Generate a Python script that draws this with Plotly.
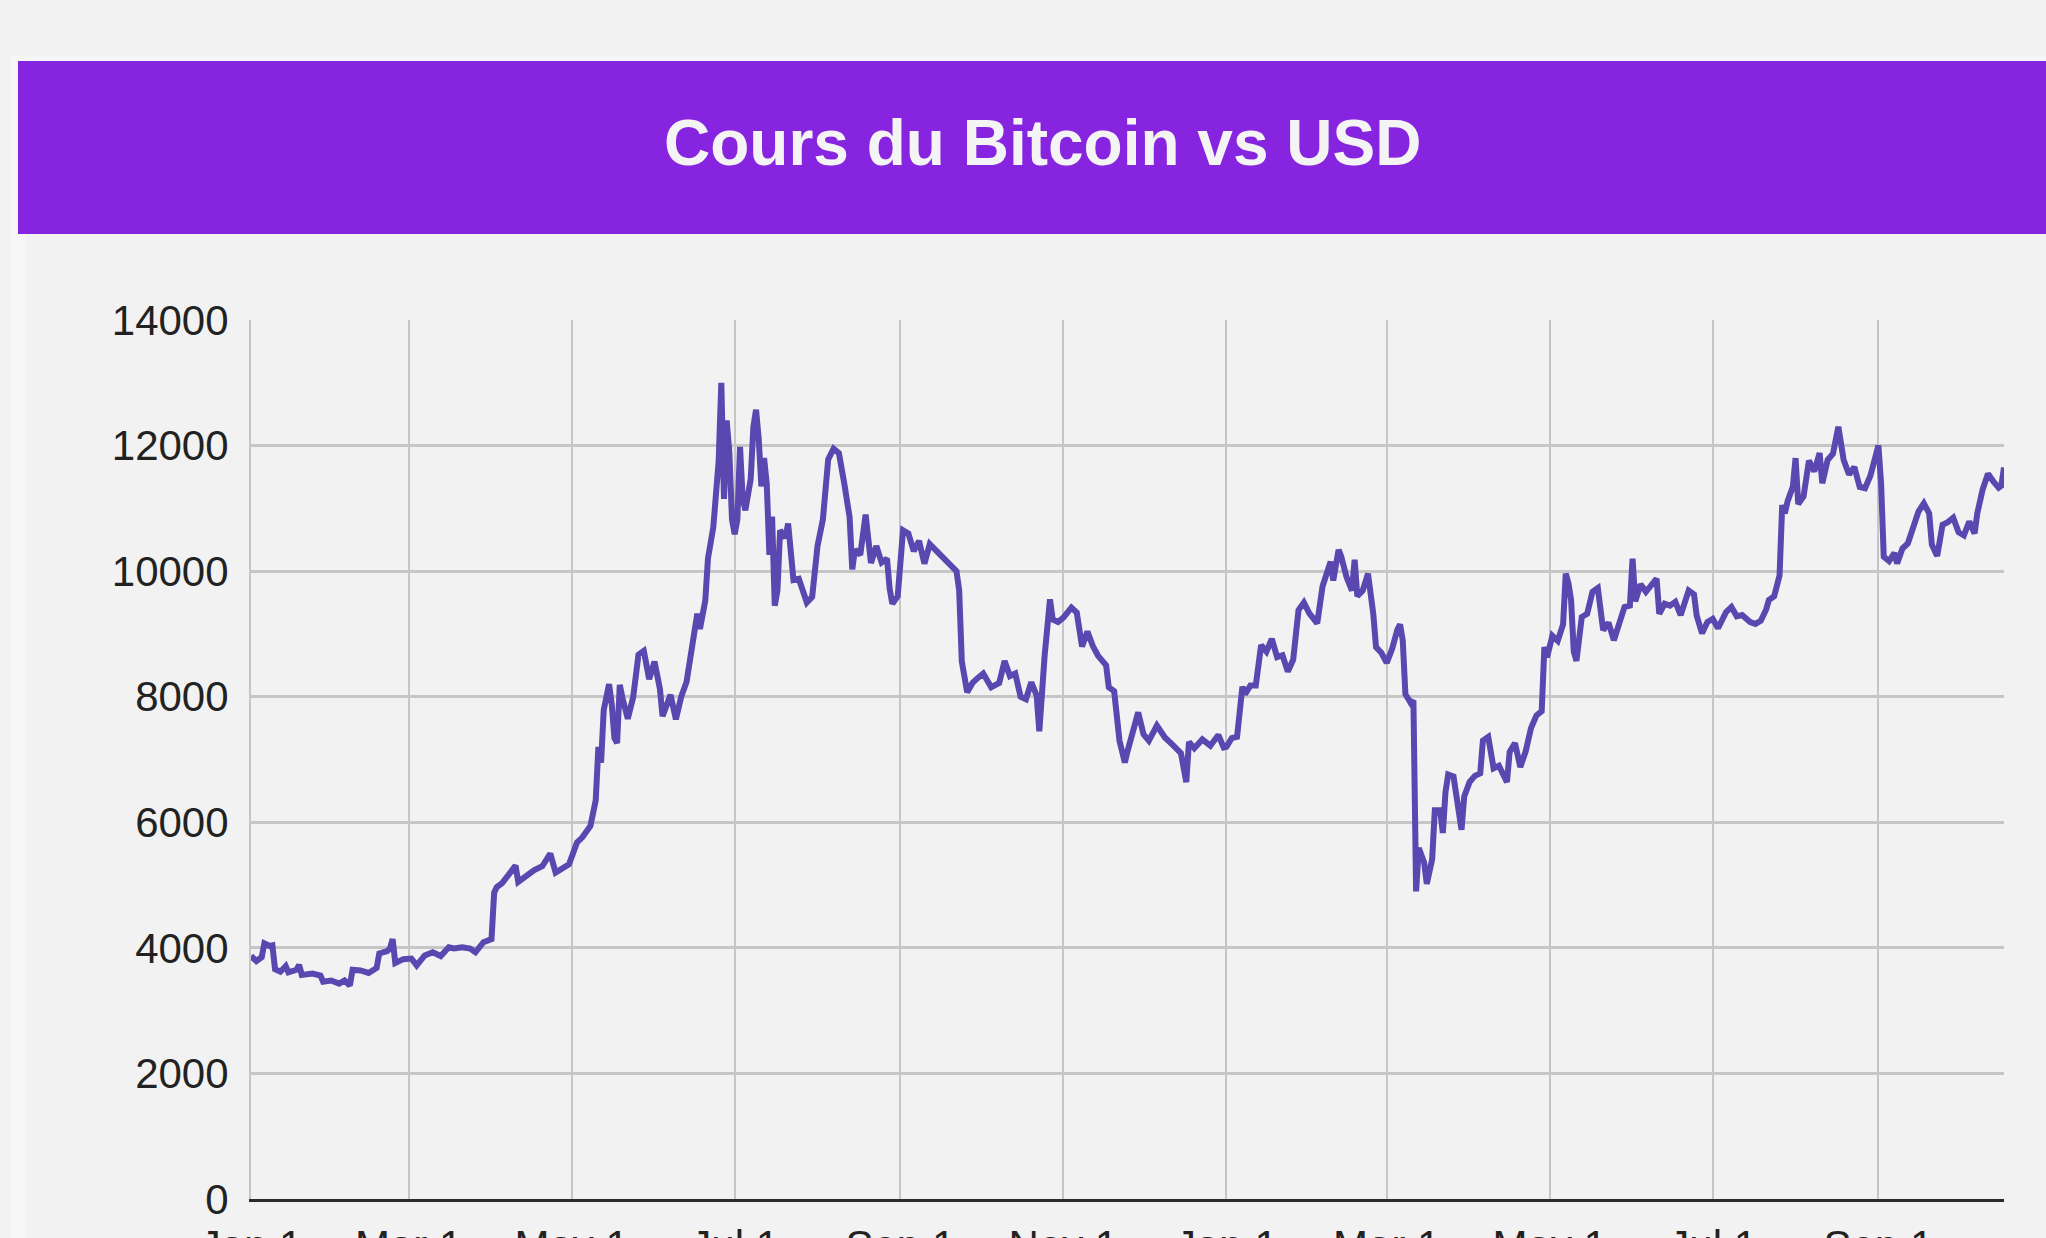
import plotly.graph_objects as go

# ---- data ----
dates_2019 = [
    "2019-01-01","2019-01-03","2019-01-05","2019-01-06","2019-01-08","2019-01-09","2019-01-10","2019-01-12",
    "2019-01-14","2019-01-15","2019-01-18","2019-01-19","2019-01-20","2019-01-24","2019-01-27","2019-01-28",
    "2019-01-31","2019-02-03","2019-02-05","2019-02-07","2019-02-08","2019-02-11","2019-02-14","2019-02-17",
    "2019-02-18","2019-02-21","2019-02-22","2019-02-23","2019-02-24","2019-02-27","2019-03-02","2019-03-04",
    "2019-03-07","2019-03-10","2019-03-13","2019-03-16","2019-03-18","2019-03-21","2019-03-24","2019-03-26",
    "2019-03-29","2019-04-01","2019-04-02","2019-04-03","2019-04-05","2019-04-08","2019-04-10","2019-04-11",
    "2019-04-14","2019-04-17","2019-04-20","2019-04-23","2019-04-25","2019-04-28","2019-04-30","2019-05-03",
    "2019-05-05","2019-05-08","2019-05-10","2019-05-11","2019-05-12","2019-05-13","2019-05-14","2019-05-15",
    "2019-05-16","2019-05-17","2019-05-18","2019-05-19","2019-05-20","2019-05-22","2019-05-24","2019-05-26",
    "2019-05-28","2019-05-30","2019-06-01","2019-06-03","2019-06-04","2019-06-07","2019-06-09","2019-06-11",
    "2019-06-13","2019-06-15","2019-06-17","2019-06-18","2019-06-20","2019-06-21","2019-06-23","2019-06-25",
    "2019-06-26","2019-06-27","2019-06-28","2019-06-29","2019-06-30","2019-07-01","2019-07-02","2019-07-03",
    "2019-07-04","2019-07-05","2019-07-07","2019-07-08","2019-07-09","2019-07-10","2019-07-11","2019-07-12",
    "2019-07-13","2019-07-14","2019-07-15","2019-07-16","2019-07-17","2019-07-18","2019-07-20","2019-07-21",
    "2019-07-23","2019-07-25","2019-07-28","2019-07-30","2019-08-01","2019-08-03","2019-08-05","2019-08-07",
    "2019-08-09","2019-08-11","2019-08-13","2019-08-14","2019-08-15","2019-08-17","2019-08-19","2019-08-21",
    "2019-08-23","2019-08-25","2019-08-27","2019-08-28","2019-08-29","2019-08-31","2019-09-02","2019-09-04",
    "2019-09-06","2019-09-08","2019-09-10","2019-09-12","2019-09-14","2019-09-16","2019-09-18","2019-09-20",
    "2019-09-22","2019-09-23","2019-09-24","2019-09-26","2019-09-28","2019-09-30","2019-10-02","2019-10-05",
    "2019-10-08","2019-10-10","2019-10-12","2019-10-14","2019-10-16","2019-10-18","2019-10-20","2019-10-22",
    "2019-10-23","2019-10-25","2019-10-26","2019-10-27","2019-10-28","2019-10-30","2019-11-01","2019-11-04",
    "2019-11-06","2019-11-08","2019-11-10","2019-11-12","2019-11-14","2019-11-17","2019-11-18","2019-11-20",
    "2019-11-22","2019-11-24","2019-11-25","2019-11-29","2019-12-01","2019-12-03","2019-12-06","2019-12-09",
    "2019-12-12","2019-12-15","2019-12-17","2019-12-18","2019-12-20","2019-12-23","2019-12-26","2019-12-29",
    "2019-12-31",
]
prices_2019 = [
    3870,3790,3850,4070,4030,4040,3660,3620,
    3710,3610,3650,3730,3570,3590,3560,3460,
    3480,3430,3480,3400,3650,3640,3600,3680,
    3910,3950,3990,4140,3760,3820,3830,3720,
    3880,3930,3870,4010,3990,4010,3990,3930,
    4090,4140,4880,4970,5030,5200,5310,5050,
    5150,5240,5300,5500,5200,5280,5330,5680,
    5760,5940,6350,7200,6950,7790,7990,8200,
    7880,7340,7260,8190,7980,7650,7990,8670,
    8730,8280,8560,8130,7690,8030,7640,8000,
    8240,8850,9320,9080,9530,10200,10700,11750,
    13000,11150,12400,11900,10820,10590,10820,11980,
    11150,10970,11470,12300,12570,12100,11350,11800,
    11390,10260,10870,9450,9690,10650,10530,10760,
    9860,9880,9500,9590,10400,10820,11780,11950,
    11880,11400,10860,10030,10340,10260,10900,10130,
    10400,10140,10200,9720,9480,9600,10650,10600,
    10320,10480,10120,10430,10350,10240,10180,10100,
    10000,9700,8560,8070,8220,8300,8370,8150,
    8220,8570,8330,8370,8000,7960,8230,8020,
    7450,8660,9250,9550,9230,9190,9260,9420,
    9340,8800,9040,8810,8650,8500,8150,8090,
    7300,6950,7130,7750,7400,7300,7540,7350,
    7230,7100,6640,7280,7180,7320,7220,7390,
    7190,
]
dates_2020 = [
    "2020-01-01","2020-01-03","2020-01-05","2020-01-06","2020-01-07","2020-01-08","2020-01-10","2020-01-12",
    "2020-01-14","2020-01-16","2020-01-18","2020-01-20","2020-01-22","2020-01-24","2020-01-26","2020-01-28",
    "2020-01-30","2020-02-01","2020-02-04","2020-02-06","2020-02-09","2020-02-10","2020-02-12","2020-02-13",
    "2020-02-15","2020-02-17","2020-02-18","2020-02-19","2020-02-21","2020-02-23","2020-02-25","2020-02-26",
    "2020-02-28","2020-03-01","2020-03-03","2020-03-05","2020-03-06","2020-03-07","2020-03-08","2020-03-10",
    "2020-03-11","2020-03-12","2020-03-13","2020-03-15","2020-03-16","2020-03-18","2020-03-19","2020-03-21",
    "2020-03-22","2020-03-23","2020-03-24","2020-03-26","2020-03-28","2020-03-29","2020-03-30","2020-04-01",
    "2020-04-03","2020-04-05","2020-04-06","2020-04-08","2020-04-10","2020-04-12","2020-04-15","2020-04-16",
    "2020-04-18","2020-04-20","2020-04-22","2020-04-24","2020-04-26","2020-04-28","2020-04-29","2020-04-30",
    "2020-05-02","2020-05-04","2020-05-06","2020-05-07","2020-05-08","2020-05-09","2020-05-10","2020-05-11",
    "2020-05-13","2020-05-15","2020-05-17","2020-05-19","2020-05-21","2020-05-23","2020-05-25","2020-05-27",
    "2020-05-29","2020-05-31","2020-06-01","2020-06-02","2020-06-04","2020-06-06","2020-06-08","2020-06-10",
    "2020-06-11","2020-06-13","2020-06-15","2020-06-17","2020-06-19","2020-06-22","2020-06-24","2020-06-25",
    "2020-06-27","2020-06-29","2020-07-01","2020-07-03","2020-07-06","2020-07-08","2020-07-10","2020-07-12",
    "2020-07-15","2020-07-17","2020-07-19","2020-07-21","2020-07-22","2020-07-24","2020-07-26","2020-07-27",
    "2020-07-28","2020-07-29","2020-07-31","2020-08-01","2020-08-02","2020-08-04","2020-08-06","2020-08-08",
    "2020-08-10","2020-08-11","2020-08-13","2020-08-15","2020-08-17","2020-08-19","2020-08-21","2020-08-23",
    "2020-08-25","2020-08-27","2020-08-29","2020-09-01","2020-09-02","2020-09-03","2020-09-05","2020-09-07",
    "2020-09-08","2020-09-10","2020-09-12","2020-09-14","2020-09-16","2020-09-18","2020-09-20","2020-09-21",
    "2020-09-23","2020-09-25","2020-09-27","2020-09-29","2020-10-01","2020-10-03","2020-10-05","2020-10-07",
    "2020-10-08","2020-10-10","2020-10-12","2020-10-14","2020-10-16","2020-10-17","2020-10-18",
]
prices_2020 = [
    7200,7340,7360,7760,8160,8040,8180,8180,
    8820,8720,8920,8630,8660,8400,8590,9380,
    9500,9330,9170,9760,10150,9850,10340,10230,
    9900,9690,10180,9600,9690,9960,9310,8790,
    8700,8540,8760,9070,9150,8900,8040,7900,
    7940,4900,5590,5360,5020,5410,6190,6190,
    5830,6480,6760,6730,6250,5880,6410,6640,
    6740,6780,7300,7360,6860,6900,6640,7120,
    7260,6880,7130,7500,7700,7770,8790,8630,
    8970,8890,9150,9960,9810,9540,8720,8570,
    9270,9320,9670,9730,9060,9180,8900,9210,
    9430,9450,10200,9520,9790,9670,9780,9880,
    9320,9480,9450,9510,9300,9690,9630,9290,
    9010,9190,9240,9090,9350,9430,9280,9300,
    9190,9160,9210,9390,9540,9600,9930,11050,
    10920,11110,11350,11800,11070,11190,11760,11590,
    11880,11400,11770,11870,12300,11770,11540,11660,
    11340,11320,11520,12000,11400,10230,10160,10290,
    10120,10360,10440,10680,10950,11080,10920,10420,
    10240,10740,10780,10850,10620,10570,10790,10600,
    10920,11300,11550,11430,11330,11360,11650,
]
y_ticks = [0, 2000, 4000, 6000, 8000, 10000, 12000, 14000]
title_text = "Cours du Bitcoin vs USD"

dates = dates_2019 + dates_2020
prices = prices_2019 + prices_2020

# ---- layout geometry (pixels) ----
W, H = 2046, 1238
ML, MR, MT, MB = 251, 42, 320, 39
PW, PH = W - ML - MR, H - MT - MB

def px_x(p):
    return (p - ML) / PW

def px_y(p):
    return (H - MB - p) / PH

FONT = "Arial, Liberation Sans, sans-serif"

fig = go.Figure()
fig.add_trace(go.Scatter(
    x=dates, y=prices, mode="lines",
    line=dict(color="#5a47b0", width=6),
    hoverinfo="x+y", showlegend=False,
))

shapes = [
    # card edge strip
    dict(type="rect", xref="paper", yref="paper",
         x0=px_x(11), x1=px_x(26), y0=px_y(H + 5), y1=px_y(56),
         fillcolor="#f6f6f6", line=dict(width=0), layer="below"),
    dict(type="rect", xref="paper", yref="paper",
         x0=px_x(11), x1=px_x(W + 5), y0=px_y(61), y1=px_y(56),
         fillcolor="#f6f6f6", line=dict(width=0), layer="below"),
    # purple banner
    dict(type="rect", xref="paper", yref="paper",
         x0=px_x(18), x1=px_x(W + 5), y0=px_y(234), y1=px_y(61),
         fillcolor="#8724e0", line=dict(width=0), layer="below"),
]

fig.update_layout(
    width=W, height=H,
    margin=dict(l=ML, r=MR, t=MT, b=MB, pad=0, autoexpand=False),
    paper_bgcolor="#f2f2f2", plot_bgcolor="#f2f2f2",
    font=dict(family=FONT, color="#333333"),
    shapes=shapes,
    annotations=[dict(
        text="<b>" + title_text + "</b>", xref="paper", yref="paper",
        x=px_x(1042), y=px_y(143), xanchor="center", yanchor="middle",
        showarrow=False, font=dict(family=FONT, size=64, color="#f4f4f4"),
    )],
    xaxis=dict(
        type="date", range=["2019-01-01", "2020-10-18"],
        tick0="2019-01-01", dtick="M2", tickformat="%b %-d",
        showgrid=True, gridcolor="#c6c6c6", gridwidth=2,
        showline=True, linecolor="#2b2b2b", linewidth=3,
        ticks="", tickfont=dict(size=42, color="#222222"),
        ticklabelstandoff=8, automargin=False,
        zeroline=False, fixedrange=True,
    ),
    yaxis=dict(
        range=[0, 14000], tickvals=y_ticks,
        ticktext=[str(v) for v in y_ticks],
        showgrid=True, gridcolor="#c6c6c6", gridwidth=2.5,
        showline=True, linecolor="#c6c6c6", linewidth=2,
        ticks="", tickfont=dict(size=42, color="#222222"),
        ticklabelstandoff=12, automargin=False,
        zeroline=False, fixedrange=True,
    ),
)

fig.write_html(
    "out.html",
    config={"displayModeBar": False},
    post_script="document.body.style.margin='0';document.body.style.background='#f2f2f2';document.body.style.overflow='hidden';",
)
